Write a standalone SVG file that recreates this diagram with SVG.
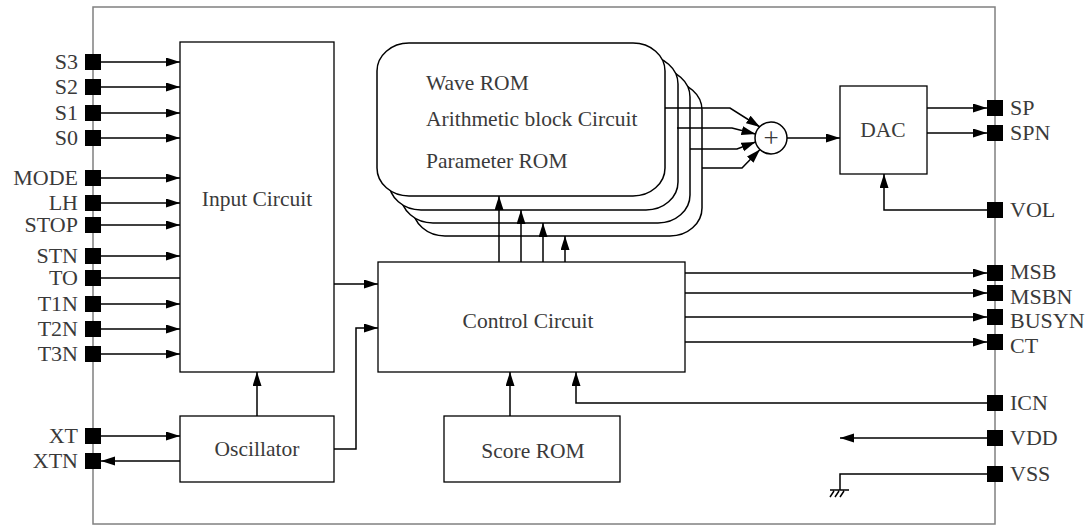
<svg xmlns="http://www.w3.org/2000/svg" width="1085" height="526" viewBox="0 0 1085 526">
<style>
text{font-family:"Liberation Serif","Times New Roman",serif;font-size:21.5px;fill:#3a3a3a}
.lbl{text-anchor:end;font-size:22px}
.rl{text-anchor:start;font-size:22px}
.c{text-anchor:middle}
.box{fill:#fff;stroke:#000;stroke-width:1.3}
.rom{fill:#fff;stroke:#000;stroke-width:1.5}
.w{fill:none;stroke:#000;stroke-width:1.5}
.a{fill:none;stroke:#000;stroke-width:1.5;marker-end:url(#ah)}
.pin{fill:#000}
</style>
<defs>
<marker id="ah" markerUnits="userSpaceOnUse" markerWidth="15" markerHeight="10" refX="14" refY="4.5" orient="auto">
<path d="M0,0 L14,4.5 L0,9 z" fill="#000"/>
</marker>
</defs>
<rect id="chip" x="93" y="7" width="902" height="517" fill="none" stroke="#808080" stroke-width="1.5"/>

<g id="input-circuit"><rect class="box" x="180" y="42" width="154" height="330"/><text class="c" x="257" y="206">Input Circuit</text></g>
<g id="oscillator"><rect class="box" x="180" y="416" width="154" height="66"/><text class="c" x="257" y="456">Oscillator</text></g>
<g id="control-circuit"><rect class="box" x="378" y="262" width="307" height="110"/><text class="c" x="528" y="328">Control Circuit</text></g>
<g id="score-rom"><rect class="box" x="444" y="416" width="176" height="66"/><text class="c" x="533" y="458">Score ROM</text></g>
<g id="dac"><rect class="box" x="840" y="86" width="87" height="88"/><text class="c" x="883" y="137">DAC</text></g>
<g id="sum"><circle cx="771" cy="138" r="16" fill="#fff" stroke="#000" stroke-width="1.5"/><text class="c" x="771" y="147" style="font-size:27px">+</text></g>
<g id="sound-blocks">
<rect class="rom" x="413" y="82" width="289" height="154" rx="32" ry="28"/>
<rect class="rom" x="401" y="69" width="289" height="154" rx="32" ry="28"/>
<rect class="rom" x="389" y="56" width="289" height="154" rx="32" ry="28"/>
<rect class="rom" x="377" y="43" width="288" height="153" rx="32" ry="28"/>
<text x="426" y="90">Wave ROM</text>
<text x="426" y="126">Arithmetic block Circuit</text>
<text x="426" y="168">Parameter ROM</text>
</g>

<g id="pins">
<rect class="pin" x="85" y="54" width="16" height="16"/>
<rect class="pin" x="85" y="79" width="16" height="16"/>
<rect class="pin" x="85" y="105" width="16" height="16"/>
<rect class="pin" x="85" y="130" width="16" height="16"/>
<rect class="pin" x="85" y="170" width="16" height="16"/>
<rect class="pin" x="85" y="195" width="16" height="16"/>
<rect class="pin" x="85" y="217" width="16" height="16"/>
<rect class="pin" x="85" y="248" width="16" height="16"/>
<rect class="pin" x="85" y="270" width="16" height="16"/>
<rect class="pin" x="85" y="296" width="16" height="16"/>
<rect class="pin" x="85" y="321" width="16" height="16"/>
<rect class="pin" x="85" y="346" width="16" height="16"/>
<rect class="pin" x="85" y="428" width="16" height="16"/>
<rect class="pin" x="85" y="453" width="16" height="16"/>
<rect class="pin" x="987" y="100" width="16" height="16"/>
<rect class="pin" x="987" y="125" width="16" height="16"/>
<rect class="pin" x="987" y="202" width="16" height="16"/>
<rect class="pin" x="987" y="265" width="16" height="16"/>
<rect class="pin" x="987" y="285" width="16" height="16"/>
<rect class="pin" x="987" y="309" width="16" height="16"/>
<rect class="pin" x="987" y="334" width="16" height="16"/>
<rect class="pin" x="987" y="395" width="16" height="16"/>
<rect class="pin" x="987" y="430" width="16" height="16"/>
<rect class="pin" x="987" y="466" width="16" height="16"/>
</g>
<g id="pin-labels">
<text class="lbl" x="78" y="69">S3</text>
<text class="lbl" x="78" y="94">S2</text>
<text class="lbl" x="78" y="120">S1</text>
<text class="lbl" x="78" y="145">S0</text>
<text class="lbl" x="78" y="185">MODE</text>
<text class="lbl" x="78" y="210">LH</text>
<text class="lbl" x="78" y="232">STOP</text>
<text class="lbl" x="78" y="263">STN</text>
<text class="lbl" x="78" y="285">TO</text>
<text class="lbl" x="78" y="311">T1N</text>
<text class="lbl" x="78" y="336">T2N</text>
<text class="lbl" x="78" y="361">T3N</text>
<text class="lbl" x="78" y="443">XT</text>
<text class="lbl" x="78" y="468">XTN</text>
<text class="rl" x="1010" y="115">SP</text>
<text class="rl" x="1010" y="140">SPN</text>
<text class="rl" x="1010" y="217">VOL</text>
<text class="rl" x="1010" y="279">MSB</text>
<text class="rl" x="1010" y="304">MSBN</text>
<text class="rl" x="1010" y="328">BUSYN</text>
<text class="rl" x="1010" y="353">CT</text>
<text class="rl" x="1010" y="410">ICN</text>
<text class="rl" x="1010" y="445">VDD</text>
<text class="rl" x="1010" y="481">VSS</text>
</g>

<g id="connectors">
<path class="a" d="M101,62 H180"/>
<path class="a" d="M101,87 H180"/>
<path class="a" d="M101,113 H180"/>
<path class="a" d="M101,138 H180"/>
<path class="a" d="M101,178 H180"/>
<path class="a" d="M101,203 H180"/>
<path class="a" d="M101,225 H180"/>
<path class="a" d="M101,256 H180"/>
<path class="w" d="M101,278 H180"/>
<path class="a" d="M101,304 H180"/>
<path class="a" d="M101,329 H180"/>
<path class="a" d="M101,354 H180"/>
<path class="a" d="M101,436 H180"/>
<path class="a" d="M180,461 H101"/>
<path class="a" d="M257,416 V372"/>
<path class="a" d="M334,284 H378"/>
<path class="a" d="M334,449 H356 V328 H378"/>
<path class="a" d="M510,416 V372"/>
<path class="a" d="M987,403 H576 V372"/>
<path class="a" d="M499,262 V196"/>
<path class="a" d="M521,262 V210"/>
<path class="a" d="M543,262 V223"/>
<path class="a" d="M565,262 V236"/>
<path class="a" d="M685,273 H987"/>
<path class="a" d="M685,293 H987"/>
<path class="a" d="M685,317 H987"/>
<path class="a" d="M685,342 H987"/>
<path class="a" d="M987,438 H840"/>
<path class="w" d="M987,474 H840 V490"/>
<path class="w" d="M830,490 H849 M834,491 L830,497 M839,491 L835,497 M844,491 L840,497"/>
<path class="a" d="M665,108 H730 L760,127"/>
<path class="a" d="M677,128 H732 L755.5,134"/>
<path class="a" d="M690,149 H737 L755.5,142"/>
<path class="a" d="M702,168 H742 L760,149.5"/>
<path class="a" d="M787,138 H840"/>
<path class="a" d="M927,108 H987"/>
<path class="a" d="M927,133 H987"/>
<path class="a" d="M987,210 H884 V174"/>
</g>
</svg>
